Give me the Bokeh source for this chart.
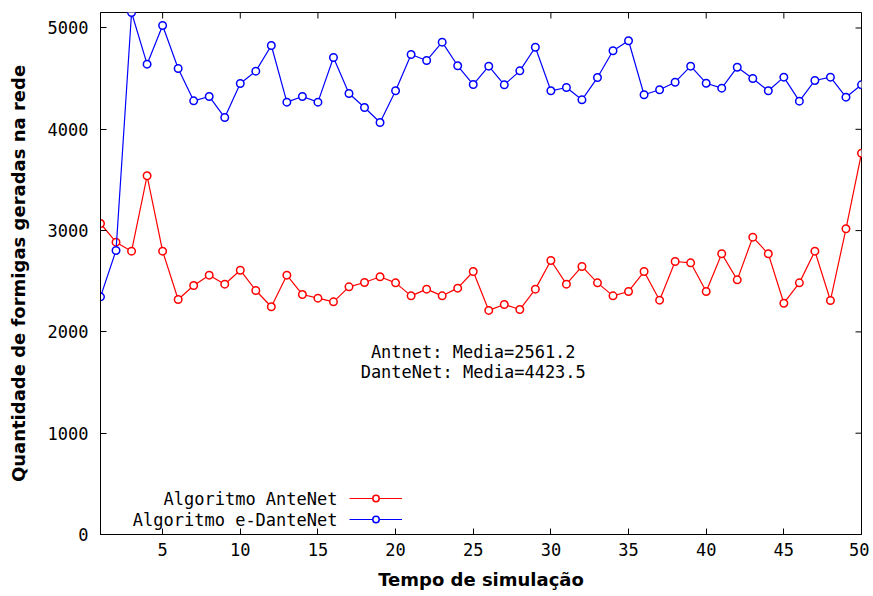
import math
from bokeh.plotting import figure
from bokeh.models import (Range1d, FixedTicker, Label, Legend, LegendItem)
from bokeh.core.properties import value
from bokeh.embed import file_html
from bokeh.resources import INLINE

# ---- data ----
tempo = list(range(1, 51))
antenet = [3070, 2886, 2797, 3541, 2797, 2320, 2458, 2560, 2471, 2609,
           2409, 2248, 2560, 2369, 2333, 2297, 2445, 2488, 2544, 2484,
           2356, 2422, 2356, 2432, 2596, 2212, 2270, 2221, 2422, 2705,
           2471, 2646, 2484, 2356, 2399, 2596, 2313, 2695, 2682, 2399,
           2771, 2514, 2935, 2771, 2283, 2484, 2797, 2310, 3018, 3764]
edantenet = [2346, 2804, 5153, 4643, 5025, 4600, 4281, 4324, 4116, 4452,
             4574, 4827, 4268, 4324, 4268, 4709, 4353, 4215, 4067, 4380,
             4738, 4679, 4860, 4627, 4442, 4623, 4439, 4577, 4810, 4380,
             4413, 4291, 4511, 4775, 4874, 4341, 4390, 4465, 4623, 4455,
             4406, 4613, 4501, 4380, 4515, 4278, 4482, 4515, 4317, 4439]
x_ticks = [5, 10, 15, 20, 25, 30, 35, 40, 45, 50]
y_ticks = [0, 1000, 2000, 3000, 4000, 5000]
series_names = ["Algoritmo AnteNet", "Algoritmo e-DanteNet"]
media_texts = ["Antnet: Media=2561.2", "DanteNet: Media=4423.5"]

MONO = "DejaVu Sans Mono"
SANS = "DejaVu Sans"
X_MIN, X_MAX = 1, 50
Y_MIN, Y_MAX = 0, max(edantenet)

p = figure(width=869, height=592, output_backend="svg", toolbar_location=None,
           x_range=Range1d(X_MIN, X_MAX), y_range=Range1d(Y_MIN, Y_MAX),
           min_border_left=100, min_border_right=8, min_border_top=12,
           min_border_bottom=58)
p.xgrid.visible = False
p.ygrid.visible = False
p.outline_line_color = "black"
p.outline_line_width = 1
p.background_fill_color = "white"
p.border_fill_color = "white"

def style_axis(ax):
    ax.major_tick_in = 6
    ax.major_tick_out = 0
    ax.minor_tick_in = 0
    ax.minor_tick_out = 0
    ax.axis_line_color = "black"
    ax.major_tick_line_color = "black"
    ax.major_label_text_font = MONO
    ax.major_label_text_color = "black"
    ax.major_label_text_font_size = "17px"
    ax.axis_label_text_font = SANS
    ax.axis_label_text_font_style = "bold"
    ax.axis_label_text_font_size = "18px"
    ax.axis_label_text_color = "black"

xa = p.xaxis[0]
xa.ticker = FixedTicker(ticks=x_ticks)
style_axis(xa)
xa.major_label_standoff = 8
xa.axis_label = "Tempo de simulação"
xa.axis_label_standoff = 10

ya = p.yaxis[0]
ya.ticker = FixedTicker(ticks=y_ticks)
style_axis(ya)
ya.major_label_standoff = 12
ya.axis_label = "Quantidade de formigas geradas na rede"
ya.axis_label_standoff = 16

# mirrored inward ticks on the top and right edges (clipped to the frame)
p.scatter(x_ticks, [Y_MAX] * len(x_ticks), marker="dash", angle=math.pi / 2,
          size=12, line_color="black", line_width=1)
p.scatter([X_MAX] * len(y_ticks), y_ticks, marker="dash", angle=0,
          size=12, line_color="black", line_width=1)

r_line = p.line(tempo, antenet, line_color="#ff0000", line_width=1.2)
r_pts = p.scatter(tempo, antenet, marker="circle", size=7.5, line_color="#ff0000",
                  fill_color="white", line_width=1.5)
b_line = p.line(tempo, edantenet, line_color="#0000ff", line_width=1.2)
b_pts = p.scatter(tempo, edantenet, marker="circle", size=7.5, line_color="#0000ff",
                  fill_color="white", line_width=1.5)

# media annotations
for txt, yv in zip(media_texts, [1797, 1609]):
    p.add_layout(Label(x=25.0, y=yv, text=txt, text_align="center",
                       text_baseline="middle", text_font=MONO,
                       text_font_size="17px", text_color="black"))

# legend: texts on the left, samples on the right
for txt, yv in zip(series_names, [355, 148]):
    p.add_layout(Label(x=16.26, y=yv, text=txt, text_align="right",
                       text_baseline="middle", text_font=MONO,
                       text_font_size="17px", text_color="black"))

leg = Legend(items=[LegendItem(label=value(" "), renderers=[r_line, r_pts]),
                    LegendItem(label=value(" "), renderers=[b_line, b_pts])],
             location=(249, 7), glyph_width=53, glyph_height=16,
             label_height=16, label_width=1, label_standoff=0,
             label_text_font_size="6px", spacing=5, padding=0, margin=0,
             background_fill_alpha=0, border_line_alpha=0)
p.add_layout(leg, "center")

open("out.html", "w").write(file_html(p, INLINE))
